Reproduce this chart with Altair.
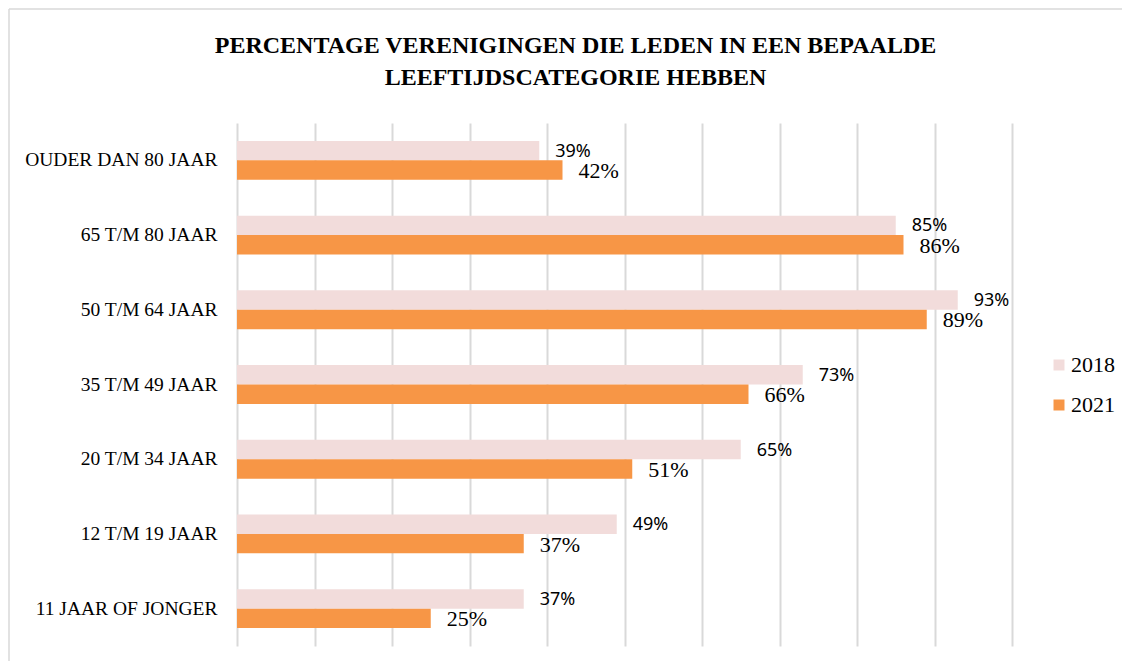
import altair as alt
import pandas as pd

categories = ["OUDER DAN 80 JAAR", "65 T/M 80 JAAR", "50 T/M 64 JAAR", "35 T/M 49 JAAR",
              "20 T/M 34 JAAR", "12 T/M 19 JAAR", "11 JAAR OF JONGER"]
years = ["2018", "2021"]
values_2018 = [39, 85, 93, 73, 65, 49, 37]
values_2021 = [42, 86, 89, 66, 51, 37, 25]
colors = ["#f2dcdb", "#f79646"]
title_lines = ["PERCENTAGE VERENIGINGEN DIE LEDEN IN EEN BEPAALDE",
               "LEEFTIJDSCATEGORIE HEBBEN"]

rows = []
for c, a, b in zip(categories, values_2018, values_2021):
    rows.append({"cat": c, "year": "2018", "value": a / 100})
    rows.append({"cat": c, "year": "2021", "value": b / 100})
df = pd.DataFrame(rows)

x_enc = alt.X("value:Q",
              scale=alt.Scale(domain=[0, 1], nice=False),
              axis=alt.Axis(title=None, labels=False, ticks=False, domain=False,
                            grid=True, gridColor="#d9d9d9", gridWidth=2, tickCount=10))
y_enc = alt.Y("cat:N", sort=categories,
              scale=alt.Scale(paddingInner=0.48, paddingOuter=0.24),
              axis=alt.Axis(title=None, ticks=False, domain=False, grid=False,
                            labelFont="Liberation Serif", labelFontSize=19.5,
                            labelColor="#000000", labelPadding=20, labelLimit=0))
yoff_enc = alt.YOffset("year:N", sort=years, scale=alt.Scale(domain=years))

base = alt.Chart(df).encode(y=y_enc, yOffset=yoff_enc)

bars = base.mark_bar().encode(
    x=x_enc,
    color=alt.Color("year:N", scale=alt.Scale(domain=years, range=colors),
                    legend=alt.Legend(title=None, orient="none", legendX=811, legendY=231,
                                      symbolType="square", symbolSize=121, symbolStrokeWidth=0,
                                      labelFont="Liberation Serif", labelFontSize=22,
                                      labelColor="#000000", rowPadding=18, labelOffset=1,
                                      labelLimit=0, padding=0)),
)

t18 = base.transform_filter("datum.year == '2018'").mark_text(
    align="left", baseline="middle", dx=16, dy=1, font="Noto Sans", fontSize=18, color="#000000"
).encode(x=x_enc, text=alt.Text("value:Q", format=".0%"))

t21 = base.transform_filter("datum.year == '2021'").mark_text(
    align="left", baseline="middle", dx=16, dy=1, font="Liberation Serif", fontSize=22, color="#000000"
).encode(x=x_enc, text=alt.Text("value:Q", format=".0%"))

# light chart-area frame (decoration only), at the top-left edge of the drawing
frame_df = pd.DataFrame({"k": [0]})
frame_left = alt.Chart(frame_df).mark_rule(color="#d9d9d9", strokeWidth=1.5).encode(
    x=alt.value(-228), y=alt.value(-114), y2=alt.value(560))
frame_top = alt.Chart(frame_df).mark_rule(color="#d9d9d9", strokeWidth=1.5).encode(
    x=alt.value(-228), x2=alt.value(900), y=alt.value(-114))

chart = alt.layer(frame_left, frame_top, bars, t18, t21).properties(
    width=775, height=523,
    autosize=alt.AutoSizeParams(type="none"),
    padding={"left": 229, "top": 115, "right": 110, "bottom": 15},
    title=alt.TitleParams(text=title_lines, font="Liberation Serif", fontSize=24,
                          fontWeight="bold", color="#000000", anchor="middle",
                          frame="group", dx=-49, lineHeight=32, offset=-82),
).configure(background="#ffffff", view=alt.ViewConfig(stroke=None))

chart.save("out.html", embed_options={"renderer": "svg", "actions": False})
